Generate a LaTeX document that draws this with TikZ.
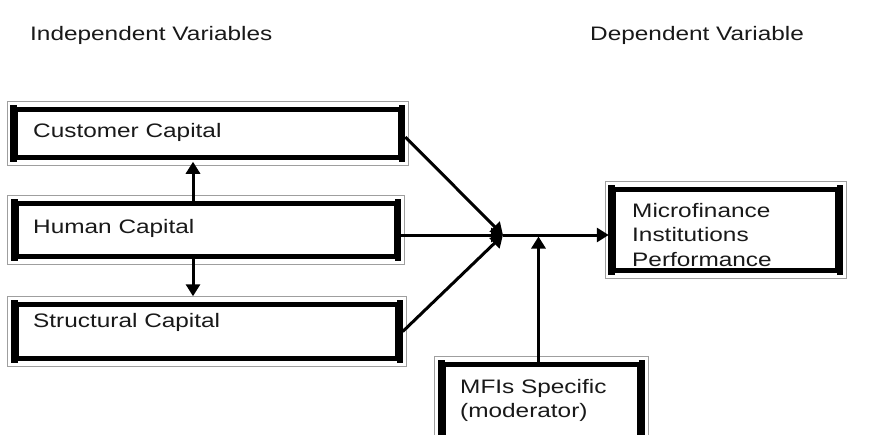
\documentclass[tikz,border=0pt]{standalone}
\usepackage{fontspec}
\setmainfont[FakeStretch=1.25]{Liberation Sans}
\usetikzlibrary{arrows.meta,calc}
\begin{document}
\begin{tikzpicture}[x=1pt,y=-1pt,
  box/.style={draw=black,line width=4.5pt,fill=white,inner sep=0pt,rectangle},
  lbl/.style={anchor=base west,inner sep=0pt,font=\fontsize{19.5}{24.5}\selectfont,text=black!90},
  arr/.style={line width=3pt,-{Triangle[length=12pt,width=14pt]}},
  ln/.style={line width=3pt}]
\useasboundingbox (0,0) rectangle (882,434);
\clip (0,0) rectangle (882,434);
\fill[white] (0,0) rectangle (882,434);
% boxes (centre line of the black border)
\node[box,minimum width=384pt,minimum height=48pt] (cc) at (208,133.5) {};
\node[box,minimum width=379.5pt,minimum height=53pt] (hc) at (206.25,230) {};
\node[box,minimum width=381pt,minimum height=54pt] (sc) at (207,331.5) {};
\node[box,minimum width=223.5pt,minimum height=81pt] (mfi) at (725.75,230) {};
\node[box,minimum width=196pt,minimum height=90pt] (mod) at (541.5,409.5) {};
% outer grey frames and thicker vertical sides
\foreach \n in {cc,hc,sc,mfi,mod}{
  \draw[gray!75,line width=1.3pt] ([xshift=-6.5pt,yshift=6pt]\n.north west) rectangle ([xshift=6.5pt,yshift=-6pt]\n.south east);
  \draw[line width=7pt] ([yshift=2.25pt]\n.north west) -- ([yshift=-2.25pt]\n.south west);
  \draw[line width=6pt] ([yshift=2.25pt]\n.north east) -- ([yshift=-2.25pt]\n.south east);
}
% texts
\node[lbl] (h1) at (30,40) {Independent Variables};
\node[lbl] (h2) at (590,40) {Dependent Variable};
\node[lbl] (cct) at (33,137) {Customer Capital};
\node[lbl] (hct) at (33,233) {Human Capital};
\node[lbl] (sct) at (33,327) {Structural Capital};
\node[lbl] (m1) at (632,217) {Microfinance};
\node[lbl] (m2) at (632,241.5) {Institutions};
\node[lbl] (m3) at (632,266) {Performance};
\node[lbl] (d1) at (460,393) {MFIs Specific};
\node[lbl] (d2) at (460,417.5) {(moderator)};
% connectors
\coordinate (j) at (503,235);
\coordinate (vx) at (193,0);
\draw[arr,shorten >=1pt] ([yshift=-2.5pt]hc.north -| vx) -- ([yshift=-1pt]cc.south -| vx);
\draw[arr,shorten >=1pt] ([yshift=2.5pt]hc.south -| vx) -- ([yshift=5pt]sc.north -| vx);
\draw[arr] ([xshift=3pt,yshift=-3.5pt]cc.east) -- (j);
\draw[arr] ([xshift=3pt,yshift=-5pt]hc.east) -- (j);
\draw[arr] ([xshift=3pt]sc.east) -- (j);
\draw[arr] (j) -- ([xshift=-3pt]j -| mfi.west);
\draw[arr] ([xshift=-3pt,yshift=-2.5pt]mod.north) -- ([xshift=-3pt,yshift=-1.5pt]mod.north |- j);
\end{tikzpicture}
\end{document}
